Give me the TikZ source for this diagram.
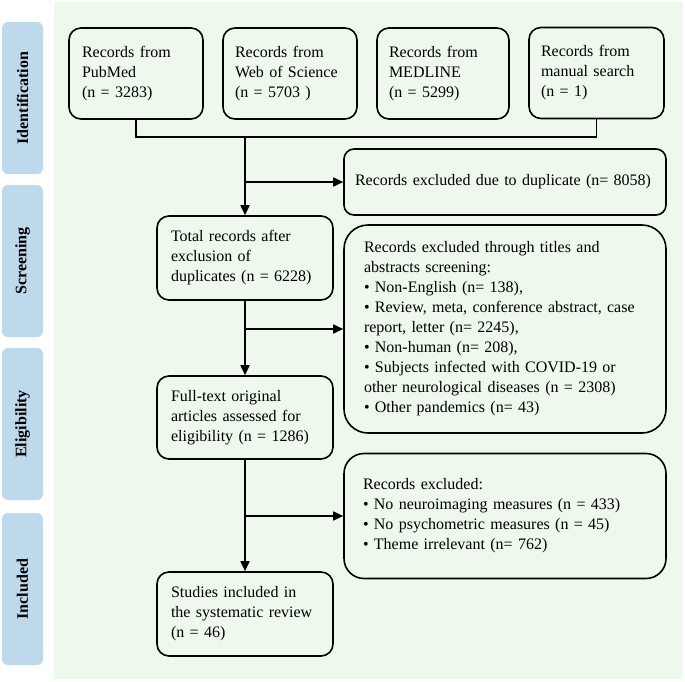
\documentclass[tikz,border=0pt]{standalone}
\usepackage{fontspec}
\setmainfont{Liberation Serif}
\usetikzlibrary{arrows.meta}
\definecolor{bgc}{RGB}{238,248,237}
\definecolor{lblc}{RGB}{190,216,236}
\tikzset{
  box/.style={draw=black, line width=1.6pt, fill=bgc, inner sep=0pt, align=left,
    font=\fontsize{16}{20}\selectfont},
  lbl/.style={fill=lblc, rounded corners=6pt, inner sep=0pt, minimum width=41pt,
    minimum height=152pt},
  lbltext/.style={rotate=90, font=\bfseries\fontsize{16}{20}\selectfont},
  conn/.style={line width=1.6pt},
  arr/.style={line width=1.6pt, -{Triangle[length=10pt,width=9pt]}}
}
\begin{document}
\begin{tikzpicture}[x=1pt,y=-1pt]
\useasboundingbox (0,0) rectangle (685,681);
\fill[bgc] (54,2) rectangle (683,679);
% side labels
\node[lbl] (l1) at (22.5,98) {};
\node[lbltext] (t1) at (l1.center) {Identification};
\node[lbl] (l2) at (22.5,261) {};
\node[lbltext] (t2) at (l2.center) {Screening};
\node[lbl] (l3) at (22.5,424) {};
\node[lbltext] (t3) at (l3.center) {Eligibility};
\node[lbl] (l4) at (22.5,589) {};
\node[lbltext] (t4) at (l4.center) {Included};
% top boxes
\node[box, rounded corners=12pt, minimum width=134, minimum height=91, text width=108] (pub) at (136,73.5) {Records from\\PubMed\\(n = 3283)};
\node[box, rounded corners=12pt, minimum width=134, minimum height=91, text width=110] (wos) at (290,73.5) {Records from\\Web of Science\\(n = 5703 )};
\node[box, rounded corners=12pt, minimum width=132, minimum height=91, text width=108] (med) at (443,73.5) {Records from\\MEDLINE\\(n = 5299)};
\node[box, rounded corners=12pt, minimum width=135, minimum height=91, text width=111] (man) at (596.5,73) {Records from\\manual search\\(n = 1)};
% main column
\node[box, rounded corners=12pt, minimum width=176, minimum height=84, text width=148] (tot) at (245,258) {Total records after\\exclusion of\\duplicates (n = 6228)};
\node[box, rounded corners=12pt, minimum width=176, minimum height=83, text width=148] (full) at (245,417.5) {Full-text original\\articles assessed for\\eligibility (n = 1286)};
\node[box, rounded corners=12pt, minimum width=176, minimum height=84, text width=148] (stu) at (245,614) {Studies included in\\the systematic review\\(n = 46)};
% right column
\node[box, rounded corners=10pt, minimum width=322, minimum height=66, text width=300] (dup) at (505,182) {Records excluded due to duplicate (n= 8058)};
\node[box, rounded corners=24pt, minimum width=322, minimum height=208, text width=282] (tit) at (505,329) {Records excluded through titles and\\abstracts screening:\\• Non-English (n= 138),\\• Review, meta, conference abstract, case\\report, letter (n= 2245),\\• Non-human (n= 208),\\• Subjects infected with COVID-19 or\\other neurological diseases (n = 2308)\\• Other pandemics (n= 43)};
\node[box, rounded corners=20pt, minimum width=322, minimum height=125, text width=284] (exc) at (505,516) {Records excluded:\\• No neuroimaging measures (n = 433)\\• No psychometric measures (n = 45)\\• Theme irrelevant (n= 762)};
% connectors
\coordinate (hl) at (245,137);
\draw[conn] (pub.south) |- (hl) -| (man.south);
\draw[arr] (hl) -- (tot.north);
\coordinate (b1) at (tot.north |- dup.west);
\draw[arr] (b1) -- (dup.west);
\draw[arr] (tot.south) -- (full.north);
\coordinate (b2) at (tot.south |- tit.west);
\draw[arr] (b2) -- (tit.west);
\draw[arr] (full.south) -- (stu.north);
\coordinate (b3) at (full.south |- exc.west);
\draw[arr] (b3) -- (exc.west);
\end{tikzpicture}
\end{document}
